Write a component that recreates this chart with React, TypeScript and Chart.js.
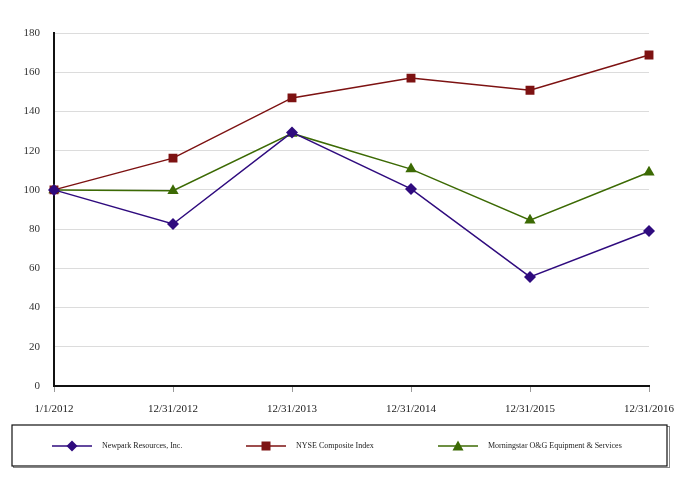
import React, { useEffect, useRef } from "react";
import { Chart, registerables } from "chart.js";

Chart.register(...registerables);

const categories = ["1/1/2012", "12/31/2012", "12/31/2013", "12/31/2014", "12/31/2015", "12/31/2016"];
const newpark = [100, 82.6, 129.3, 100.5, 55.6, 79.0];
const nyse = [100, 116.2, 146.9, 157.0, 150.8, 168.8];
const morningstar = [100, 99.6, 128.8, 110.6, 84.5, 109.0];
const seriesNames = ["Newpark Resources, Inc.", "NYSE Composite Index", "Morningstar O&G Equipment & Services"];

const PURPLE = "#2f0b7e";
const RED = "#7d1212";
const GREEN = "#3c6a04";
const FONT = "'Liberation Serif', 'Times New Roman', serif";

const legendPlugin = {
  id: "boxLegend",
  afterDraw(chart: any) {
    const ctx = chart.ctx as CanvasRenderingContext2D;
    ctx.save();
    ctx.strokeStyle = "#888";
    ctx.lineWidth = 1;
    ctx.strokeRect(13.5, 426.5, 656, 41);
    ctx.strokeStyle = "#111";
    ctx.lineWidth = 1.2;
    ctx.fillStyle = "#fff";
    ctx.fillRect(12, 425, 655, 41);
    ctx.strokeRect(12, 425, 655, 41);
    const items = chart.data.datasets.map((ds: any, i: number) => ({
      label: ds.label,
      color: ds.borderColor,
      style: ds.pointStyle,
      x: [52, 246, 438][i],
    }));
    const y = 446;
    ctx.font = `8px ${FONT}`;
    ctx.textBaseline = "middle";
    items.forEach((it: any) => {
      ctx.strokeStyle = it.color;
      ctx.lineWidth = 1.5;
      ctx.beginPath();
      ctx.moveTo(it.x, y);
      ctx.lineTo(it.x + 40, y);
      ctx.stroke();
      const cx = it.x + 20;
      ctx.fillStyle = it.color;
      ctx.beginPath();
      if (it.style === "rectRot") {
        ctx.moveTo(cx, y - 5.5);
        ctx.lineTo(cx + 5.5, y);
        ctx.lineTo(cx, y + 5.5);
        ctx.lineTo(cx - 5.5, y);
      } else if (it.style === "rect") {
        ctx.rect(cx - 4.5, y - 4.5, 9, 9);
      } else {
        ctx.moveTo(cx, y - 5.5);
        ctx.lineTo(cx + 5.5, y + 4.5);
        ctx.lineTo(cx - 5.5, y + 4.5);
      }
      ctx.closePath();
      ctx.fill();
      ctx.fillStyle = "#222";
      ctx.fillText(it.label, it.x + 50, y);
    });
    ctx.restore();
  },
};

export default function App() {
  const ref = useRef<HTMLCanvasElement>(null);
  useEffect(() => {
    document.body.style.margin = "0";
    const chart = new Chart(ref.current!, {
      type: "line",
      data: {
        labels: categories,
        datasets: [
          {
            label: seriesNames[0],
            data: newpark,
            borderColor: PURPLE,
            backgroundColor: PURPLE,
            borderWidth: 1.5,
            pointStyle: "rectRot",
            pointRadius: 6,
            pointBorderWidth: 0,
          },
          {
            label: seriesNames[1],
            data: nyse,
            borderColor: RED,
            backgroundColor: RED,
            borderWidth: 1.5,
            pointStyle: "rect",
            pointRadius: 6.3,
            pointBorderWidth: 0,
          },
          {
            label: seriesNames[2],
            data: morningstar,
            borderColor: GREEN,
            backgroundColor: GREEN,
            borderWidth: 1.5,
            pointStyle: "triangle",
            pointRadius: 6.5,
            pointBorderWidth: 0,
          },
        ],
      },
      options: {
        animation: false,
        responsive: false,
        devicePixelRatio: 1,
        layout: { padding: { left: 0, right: 33, top: 33, bottom: 0 } },
        plugins: { legend: { display: false }, tooltip: { enabled: false } },
        elements: { line: { tension: 0 } },
        scales: {
          x: {
            offset: false,
            grid: {
              display: true,
              drawOnChartArea: false,
              drawTicks: true,
              tickLength: 6,
              color: "#999",
            },
            border: { display: true, color: "#111", width: 2 },
            ticks: {
              color: "#222",
              font: { family: FONT, size: 11 },
              padding: 11,
              maxRotation: 0,
              autoSkip: false,
            },
            afterFit(scale: any) {
              scale.height = 94;
              scale.paddingLeft = 0;
              scale.paddingRight = 0;
            },
          },
          y: {
            min: 0,
            max: 180,
            grid: { color: "#dcdcdc", drawTicks: false, lineWidth: 1 },
            border: { display: true, color: "#111", width: 2 },
            ticks: {
              stepSize: 20,
              color: "#333",
              font: { family: FONT, size: 11 },
              padding: 14,
            },
            afterFit(scale: any) {
              scale.width = 54;
              scale.paddingTop = 0;
              scale.paddingBottom = 0;
            },
          },
        },
      },
      plugins: [legendPlugin],
    } as any);
    return () => chart.destroy();
  }, []);
  return (
    <div style={{ width: 682, height: 480, background: "#fff" }}>
      <canvas ref={ref} width={682} height={480} style={{ display: "block" }} />
    </div>
  );
}
